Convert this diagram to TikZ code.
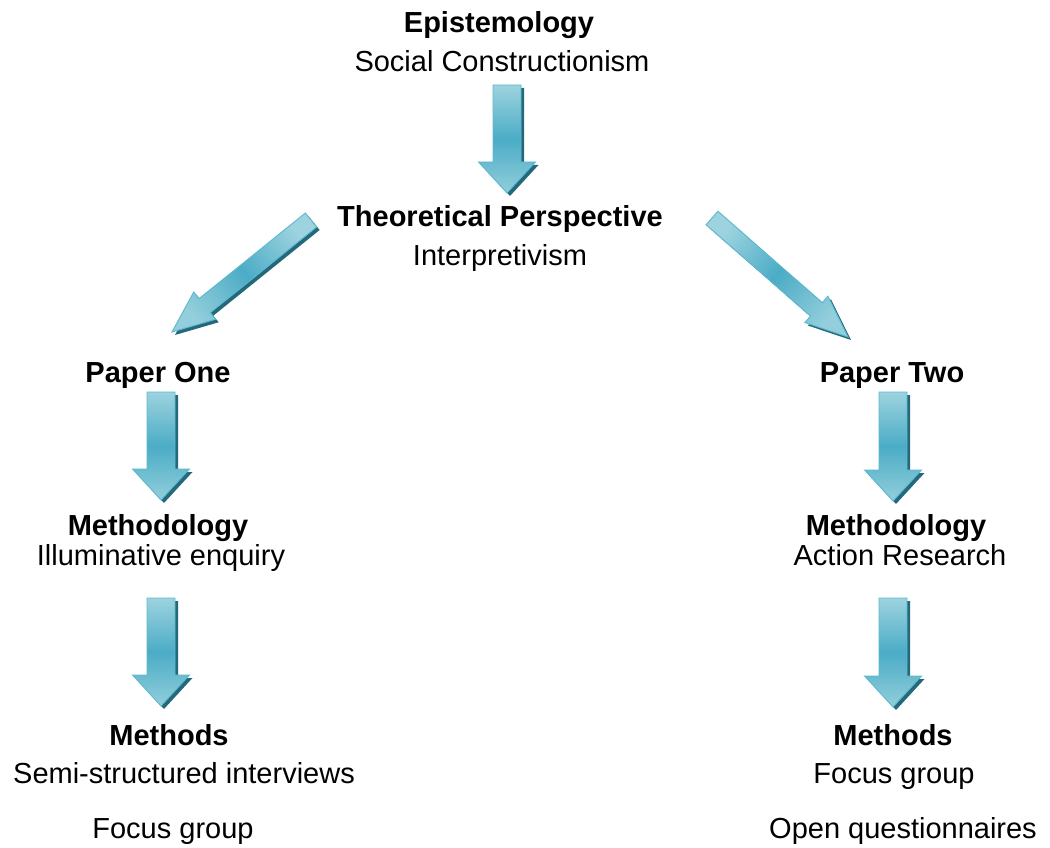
\documentclass[tikz,border=0pt]{standalone}
\usepackage{fontspec}
\setmainfont{Liberation Sans}
\usetikzlibrary{calc}
\definecolor{arlight}{HTML}{9DD3DF}
\definecolor{arhead}{HTML}{92CEDB}
\definecolor{armid}{HTML}{4BACC6}
\definecolor{aredge}{HTML}{5DB8CE}
\definecolor{arshadow}{HTML}{23697B}
\tikzset{
  lbl/.style={anchor=base, inner sep=0pt, font=\fontsize{29}{35}\selectfont},
  lblb/.style={lbl, font=\fontsize{29}{35}\selectfont\bfseries},
  arrowshadow/.style={fill=arshadow},
  arrowbody/.style={top color=arlight, bottom color=arhead, middle color=armid, draw=aredge, line width=0.9pt, line join=miter}
}
\newcommand\blkarrow[7]{%
  \coordinate (#1p) at ($(#3)!#6!(#2)$);
  \coordinate (#1a1) at ($(#2)!#4!90:(#3)$);
  \coordinate (#1a2) at ($(#1p)!#4!90:(#3)$);
  \coordinate (#1a3) at ($(#1p)!#5!90:(#3)$);
  \coordinate (#1a4) at ($(#1p)!#5!-90:(#3)$);
  \coordinate (#1a5) at ($(#1p)!#4!-90:(#3)$);
  \coordinate (#1a6) at ($(#2)!#4!-90:(#3)$);
  \fill[arrowshadow, transform canvas={shift={(3pt,-3pt)}}] (#1a1) -- (#1a2) -- (#1a3) -- (#3) -- (#1a4) -- (#1a5) -- (#1a6) -- cycle;
  \path[arrowbody, shading angle=#7] (#1a1) -- (#1a2) -- (#1a3) -- (#3) -- (#1a4) -- (#1a5) -- (#1a6) -- cycle;
}
\begin{document}
\begin{tikzpicture}[x=1pt, y=-1pt]
\useasboundingbox (0,0) rectangle (1050,848);
% texts
\node[lblb] (epi) at (499,33) {Epistemology};
\node[lbl] (epis) at (502,72) {Social Constructionism};
\node[lblb] (theo) at (500,226) {Theoretical Perspective};
\node[lbl] (theos) at (500,265) {Interpretivism};
\node[lblb] (p1) at (158,382) {Paper One};
\node[lblb] (p2) at (892,382) {Paper Two};
\node[lblb] (m1) at (158,535) {Methodology};
\node[lbl] (m1s) at (161,565) {Illuminative enquiry};
\node[lblb] (m2) at (896,535) {Methodology};
\node[lbl] (m2s) at (900,565) {Action Research};
\node[lblb] (me1) at (169,745) {Methods};
\node[lbl] (me1a) at (184,783) {Semi-structured interviews};
\node[lbl] (me1b) at (173,838) {Focus group};
\node[lblb] (me2) at (893,745) {Methods};
\node[lbl] (me2a) at (894,783) {Focus group};
\node[lbl] (me2b) at (903,838) {Open questionnaires};
% arrow end points
\coordinate (s0) at (507,85);  \coordinate (e0) at (507,193);
\coordinate (sl) at (311,220); \coordinate (el) at (172,332);
\coordinate (sr) at (712,218); \coordinate (er) at (848,337);
\coordinate (s1) at (161,392); \coordinate (e1) at (161,500);
\coordinate (s2) at (893,392); \coordinate (e2) at (893,501);
\coordinate (s3) at (161,598); \coordinate (e3) at (161,706);
\coordinate (s4) at (893,598); \coordinate (e4) at (893,707);
% arrows
\blkarrow{A0}{s0}{e0}{14pt}{28.5pt}{31pt}{0}
\blkarrow{AL}{sl}{el}{9pt}{17.5pt}{42pt}{-51}
\blkarrow{AR}{sr}{er}{9pt}{17.5pt}{42pt}{49}
\blkarrow{A1}{s1}{e1}{14pt}{28.5pt}{31pt}{0}
\blkarrow{A2}{s2}{e2}{14pt}{28.5pt}{31pt}{0}
\blkarrow{A3}{s3}{e3}{14pt}{28.5pt}{31pt}{0}
\blkarrow{A4}{s4}{e4}{14pt}{28.5pt}{31pt}{0}
\end{tikzpicture}
\end{document}
